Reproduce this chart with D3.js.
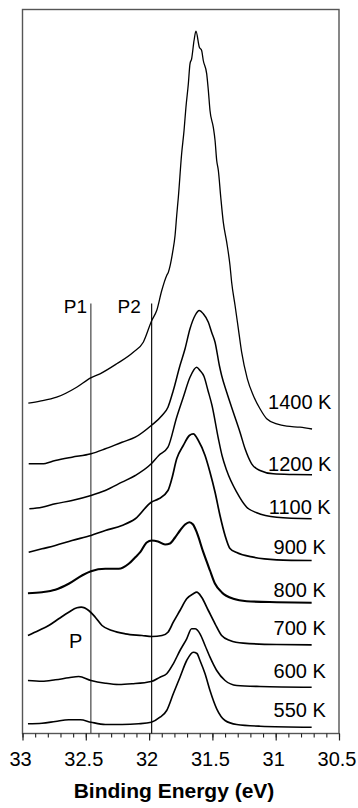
<!DOCTYPE html>
<html>
<head>
<meta charset="utf-8">
<script src="https://cdn.jsdelivr.net/npm/d3@7"></script>
<style>
  body { margin: 0; background: #fff; }
  svg text { font-family: Arial, "Liberation Sans", sans-serif; fill: #000; }
</style>
</head>
<body>
<svg id="chart" width="358" height="808"></svg>
<script>
// Annealing temperatures, top trace first
const temperatures = ["1400 K", "1200 K", "1100 K", "900 K", "800 K", "700 K", "600 K", "550 K"];

// Stacked spectra: [binding energy (eV), intensity (arb. units, offset included)]
const s1400 = [[32.954,330.3],[32.862,332.3],[32.730,336.3],[32.572,346.3],[32.461,355.7],[32.388,359.7],[32.256,369.7],[32.125,381.3],[32.046,391.3],[31.979,413],[31.940,423],[31.900,443],[31.861,458],[31.848,461.3],[31.814,481.3],[31.795,498],[31.782,518],[31.769,536.3],[31.743,579.7],[31.724,603],[31.709,626.3],[31.690,649.7],[31.677,669.7],[31.664,674.7],[31.645,693],[31.630,702.3],[31.603,686.3],[31.585,683],[31.572,673],[31.545,659.7],[31.532,643],[31.519,623],[31.493,606.3],[31.479,593],[31.466,573],[31.453,563],[31.434,536.3],[31.414,511.3],[31.387,491.3],[31.361,468],[31.348,451.3],[31.321,428],[31.295,404.7],[31.269,381.3],[31.224,354.7],[31.177,338],[31.124,324.7],[31.071,314.7],[30.992,309.7],[30.913,307.3],[30.808,306.3],[30.713,304.5]];
const s1200 = [[32.951,269.7],[32.846,269.7],[32.741,273],[32.609,276.3],[32.459,279.7],[32.346,284.7],[32.214,291.3],[32.109,296.3],[31.983,308],[31.898,318],[31.851,326.3],[31.809,343],[31.756,368],[31.716,384.7],[31.677,404.7],[31.637,418],[31.603,423],[31.572,419.7],[31.532,411.3],[31.506,401.3],[31.479,391.3],[31.445,368],[31.427,358],[31.387,341.3],[31.335,321.3],[31.282,301.3],[31.242,284.7],[31.190,269.7],[31.124,263],[31.019,259.7],[30.861,259],[30.713,258.7]];
const s1100 = [[32.946,224.7],[32.846,226.3],[32.741,229.7],[32.609,233],[32.459,238],[32.346,243],[32.214,251.3],[32.109,258],[31.983,269.7],[31.924,278],[31.851,286.3],[31.782,316.3],[31.730,336.3],[31.677,356.3],[31.624,366.3],[31.598,363],[31.566,357],[31.535,343],[31.503,328],[31.453,295],[31.424,278],[31.387,263],[31.308,241.3],[31.229,226.3],[31.150,220.7],[30.992,216.3],[30.716,214.7]];
const s900 = [[32.951,181.3],[32.846,184.7],[32.741,188],[32.609,193],[32.459,198],[32.346,203],[32.214,208],[32.109,214.7],[31.983,231.3],[31.924,234.7],[31.851,243],[31.820,255],[31.782,274.7],[31.730,288],[31.682,298],[31.651,299.7],[31.611,293],[31.558,278],[31.519,261.3],[31.479,241.3],[31.440,218],[31.400,198],[31.361,185],[31.308,181],[31.177,176.3],[30.992,173.7],[30.716,173]];
const s800 = [[32.957,140.3],[32.846,141.3],[32.741,143.7],[32.635,149.7],[32.530,158],[32.459,162.3],[32.346,164.7],[32.240,164.7],[32.161,169.7],[32.109,176.3],[32.070,181.3],[32.019,191],[31.979,193],[31.930,192],[31.874,189],[31.835,190],[31.795,196],[31.756,203],[31.716,209],[31.682,211.3],[31.653,209],[31.624,201.3],[31.572,181.3],[31.519,163],[31.479,149.7],[31.427,141.3],[31.335,134.7],[31.229,132.3],[30.992,131.3],[30.716,130.7]];
const s700 = [[32.957,98],[32.872,103],[32.793,108],[32.714,114.7],[32.635,121.3],[32.570,125.7],[32.536,126.3],[32.477,123],[32.425,116.3],[32.372,108],[32.293,103],[32.188,99.7],[32.056,98],[31.977,97],[31.898,98],[31.851,101.3],[31.809,111.3],[31.756,123],[31.703,134.7],[31.651,139.7],[31.624,141.3],[31.585,136.3],[31.532,123],[31.479,109.7],[31.427,98],[31.361,93],[31.256,90.3],[30.992,89],[30.716,88.7]];
const s600 = [[32.957,53],[32.846,52.3],[32.741,53.7],[32.635,55.7],[32.556,57],[32.459,53],[32.346,50.3],[32.240,49],[32.135,49.7],[31.983,52],[31.914,56.3],[31.861,59.7],[31.809,69.7],[31.756,83],[31.703,94.7],[31.664,104.7],[31.637,104.7],[31.598,99.7],[31.558,88],[31.519,76.3],[31.466,63],[31.400,53],[31.308,48],[31.124,47],[30.716,46.3]];
const s550 = [[32.957,9.7],[32.846,10.3],[32.741,12],[32.635,13.7],[32.543,13.7],[32.459,11.3],[32.346,9],[32.214,9],[32.082,9.7],[31.983,11.3],[31.914,16.3],[31.861,23],[31.809,39.7],[31.756,56.3],[31.703,73],[31.651,81.3],[31.622,80],[31.598,73],[31.558,59.7],[31.519,43],[31.466,24.7],[31.400,13],[31.308,9],[31.124,7.3],[30.716,6.3]];
const spectra = [s1400, s1200, s1100, s900, s800, s700, s600, s550];

// Trace weight per spectrum (noisier scans print heavier)
const traceWidths = [1.3, 1.5, 1.5, 1.7, 2.1, 1.7, 1.6, 1.6];

// Intensity at which each temperature label sits
const labelLevels = [325, 263, 220, 180, 137, 99, 56, 17];
const labelEnergy = 30.81;

// Reference component energies
const peakNames = ["P1", "P2"];
const peakEnergies = [32.46, 31.98];
const peakLineTop = 430;     // intensity where the marker lines begin
const peakLabelEnergy = [32.49, 32.065];
// Low-temperature feature label
const pLabel = { text: "P", energy: 32.58, level: 86 };

// Axis ticks
const majorTicks = [33, 32.5, 32, 31.5, 31, 30.5];
const minorTicks = d3.range(0, 26).map(i => +(33 - i * 0.1).toFixed(1));

const svg = d3.select("#chart");
const margin = { left: 22.5, right: 19, top: 9.5, bottom: 74.5 };
const W = 358, H = 808;

const x = d3.scaleLinear().domain([33, 30.5]).range([margin.left, W - margin.right]);
const y = d3.scaleLinear().domain([0, 724]).range([H - margin.bottom, margin.top]);

// Frame
svg.append("rect")
  .attr("x", x(33)).attr("y", y(724))
  .attr("width", x(30.5) - x(33)).attr("height", y(0) - y(724))
  .attr("fill", "none").attr("stroke", "#555").attr("stroke-width", 1.4);

// Marker lines
const markers = svg.append("g");
peakEnergies.forEach((e, i) => {
  markers.append("line")
    .attr("x1", x(e)).attr("x2", x(e))
    .attr("y1", y(peakLineTop)).attr("y2", y(0))
    .attr("stroke", i === 0 ? "#444" : "#111").attr("stroke-width", 1.2);
  markers.append("text")
    .attr("x", x(peakLabelEnergy[i])).attr("y", y(peakLineTop) + 9.5)
    .attr("text-anchor", "end").attr("font-size", 19)
    .text(peakNames[i]);
});

// Spectra
const line = d3.line().curve(d3.curveMonotoneX).x(d => x(d[0])).y(d => y(d[1]));
svg.append("g").selectAll("path").data(spectra).join("path")
  .attr("d", line)
  .attr("fill", "none").attr("stroke", "#000")
  .attr("stroke-width", (d, i) => traceWidths[i]).attr("stroke-linejoin", "round");

// Temperature labels
svg.append("g").selectAll("text").data(temperatures).join("text")
  .attr("x", x(labelEnergy)).attr("y", (d, i) => y(labelLevels[i]))
  .attr("text-anchor", "middle").attr("font-size", 20)
  .text(d => d);

svg.append("text")
  .attr("x", x(pLabel.energy)).attr("y", y(pLabel.level))
  .attr("text-anchor", "middle").attr("font-size", 20)
  .text(pLabel.text);

// Bottom axis: minor then major ticks
const axisY = y(0);
svg.append("g").attr("transform", `translate(0,${axisY})`)
  .call(d3.axisBottom(x).tickValues(minorTicks).tickSize(4).tickFormat(""))
  .call(g => g.select(".domain").remove())
  .call(g => g.selectAll("line").attr("stroke", "#222").attr("stroke-width", 1.1));

svg.append("g").attr("transform", `translate(0,${axisY})`)
  .call(d3.axisBottom(x).tickValues(majorTicks).tickSize(7).tickPadding(11).tickFormat(d3.format("")))
  .call(g => g.select(".domain").remove())
  .call(g => g.selectAll("line").attr("stroke", "#222").attr("stroke-width", 1.2))
  .call(g => g.selectAll("text")
    .attr("font-size", 20).attr("fill", "#000").attr("dx", -2.5)
    .attr("font-family", "Arial, 'Liberation Sans', sans-serif"));

svg.append("text")
  .attr("x", 174).attr("y", 798)
  .attr("text-anchor", "middle").attr("font-size", 21).attr("font-weight", "bold")
  .text("Binding Energy (eV)");
</script>
</body>
</html>
